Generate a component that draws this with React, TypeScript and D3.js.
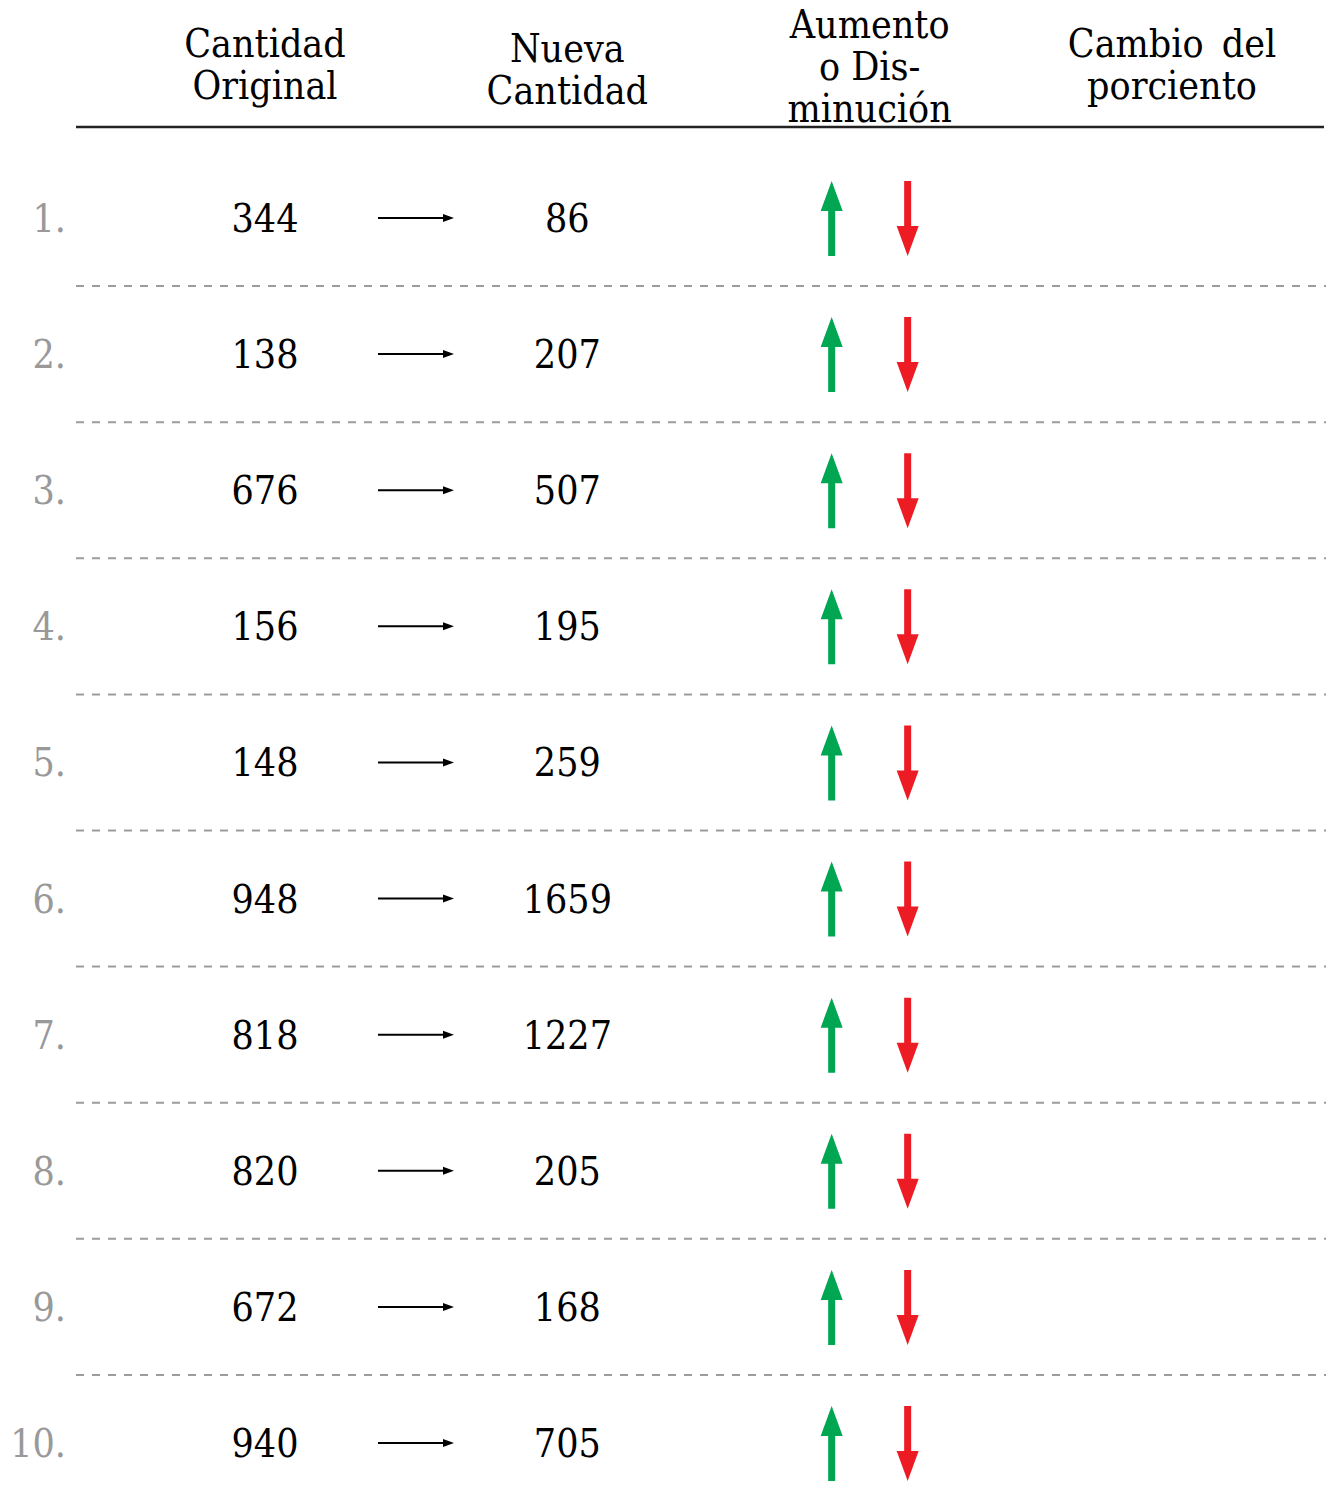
import React, { useEffect, useRef } from 'react';
import * as d3 from 'd3';

const rowLabels = ['1.', '2.', '3.', '4.', '5.', '6.', '7.', '8.', '9.', '10.'];
const original = [344, 138, 676, 156, 148, 948, 818, 820, 672, 940];
const nueva = [86, 207, 507, 195, 259, 1659, 1227, 205, 168, 705];
const headers = [
  ['Cantidad', 'Original'],
  ['Nueva', 'Cantidad'],
  ['Aumento', 'o Dis-', 'minución'],
  ['Cambio del', 'porciento'],
];
const headerCols = ['orig', 'nueva', 'cambio', 'pct'];

const W = 1330;
const H = 1508;
const FONT = "'DejaVu Serif Condensed', 'DejaVu Serif', serif";

export default function App() {
  const ref = useRef<SVGSVGElement>(null);

  useEffect(() => {
    document.body.style.margin = '0';
    const svg = d3.select(ref.current);
    svg.selectAll('*').remove();

    const x = d3.scalePoint<string>().domain(headerCols).range([265, 1172]);
    const y = d3.scaleLinear().domain([0, rowLabels.length - 1]).range([218, 1443]);
    const step = y(1) - y(0);

    const g = svg.append('g').attr('font-family', FONT).style('font-stretch', 'condensed');

    // header
    const headBottom = 127;
    headers.forEach((lines, i) => {
      const n = lines.length;
      const base = n === 3 ? 38 : i === 1 ? 62 : 57;
      g.append('text')
        .attr('x', x(headerCols[i])!)
        .attr('text-anchor', 'middle')
        .attr('font-size', 39)
        .attr('fill', '#000')
        .style('word-spacing', i === 3 ? '7px' : '0px')
        .selectAll('tspan')
        .data(lines)
        .join('tspan')
        .attr('x', x(headerCols[i])!)
        .attr('y', (d, j) => base + j * 42)
        .text(d => d);
    });
    g.append('line')
      .attr('x1', 76).attr('x2', 1324)
      .attr('y1', headBottom).attr('y2', headBottom)
      .attr('stroke', '#222').attr('stroke-width', 2.5);

    // dashed separators
    g.append('g')
      .selectAll('line')
      .data(d3.range(rowLabels.length - 1))
      .join('line')
      .attr('x1', 76).attr('x2', 1326)
      .attr('y1', i => y(i) + step / 2).attr('y2', i => y(i) + step / 2)
      .attr('stroke', '#9c9c9c').attr('stroke-width', 2)
      .attr('stroke-dasharray', '8,8');

    const rows = g.append('g')
      .selectAll('g')
      .data(rowLabels.map((l, i) => ({ l, o: original[i], n: nueva[i], i })))
      .join('g')
      .attr('transform', d => `translate(0,${y(d.i)})`);

    rows.append('text')
      .attr('x', 66).attr('y', 14)
      .attr('text-anchor', 'end')
      .attr('font-size', 39)
      .attr('fill', '#999')
      .text(d => d.l);

    rows.append('text')
      .attr('x', x('orig')!).attr('y', 14)
      .attr('text-anchor', 'middle')
      .attr('font-size', 39)
      .attr('fill', '#000')
      .text(d => d.o);

    rows.append('text')
      .attr('x', x('nueva')!).attr('y', 14)
      .attr('text-anchor', 'middle')
      .attr('font-size', 39)
      .attr('fill', '#000')
      .text(d => d.n);

    // small arrow between columns
    rows.append('line')
      .attr('x1', 378).attr('x2', 446)
      .attr('y1', 0).attr('y2', 0)
      .attr('stroke', '#000').attr('stroke-width', 2);
    rows.append('path')
      .attr('d', 'M443,-4 L454,0 L443,4 Z')
      .attr('fill', '#000');

    // up / down arrows
    const cx = x('cambio')!;
    const upX = cx - 38;
    const dnX = cx + 38;
    rows.append('path')
      .attr('d', `M${upX},-37 L${upX + 11},-7 L${upX + 3.5},-7 L${upX + 3.5},38 L${upX - 3.5},38 L${upX - 3.5},-7 L${upX - 11},-7 Z`)
      .attr('fill', '#00a651');
    rows.append('path')
      .attr('d', `M${dnX},38 L${dnX + 11},8 L${dnX + 3.5},8 L${dnX + 3.5},-37 L${dnX - 3.5},-37 L${dnX - 3.5},8 L${dnX - 11},8 Z`)
      .attr('fill', '#ed1c24');
  }, []);

  return (
    <div>
      <svg ref={ref} width={W} height={H} style={{ display: 'block', background: '#fff' }} />
    </div>
  );
}
